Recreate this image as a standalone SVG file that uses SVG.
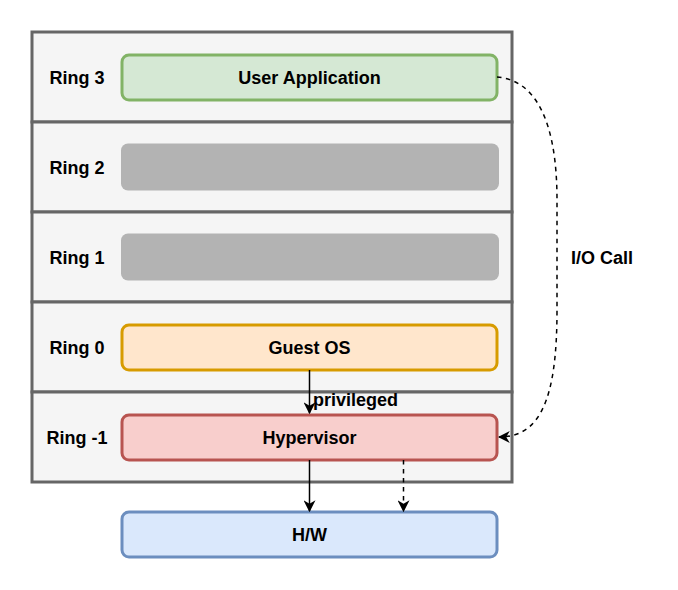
<svg xmlns="http://www.w3.org/2000/svg" width="678" height="590" viewBox="0 0 678 590">
<style>
text{font-family:"Liberation Sans",Arial,sans-serif;font-weight:bold;font-size:18px;fill:#000}
.c{text-anchor:middle}
.row{fill:#f5f5f5;stroke:#666666;stroke-width:3}
.box{stroke-width:3}
.ln{fill:none;stroke:#000;stroke-width:1.5}
.d{stroke-dasharray:4.5 4.5}
</style>
<defs>
<marker id="ah" viewBox="0 0 10 10" refX="9" refY="5" markerWidth="12" markerHeight="12" markerUnits="userSpaceOnUse" orient="auto">
<path d="M0,0 L10,5 L0,10 L3,5 Z" fill="#000"/>
</marker>
</defs>
<g id="ring3"><rect class="row" x="32" y="32" width="480" height="90"/><text class="c" x="77" y="83.5">Ring 3</text></g>
<g id="ring2"><rect class="row" x="32" y="122" width="480" height="90"/><text class="c" x="77" y="173.5">Ring 2</text></g>
<g id="ring1"><rect class="row" x="32" y="212" width="480" height="90"/><text class="c" x="77" y="263.5">Ring 1</text></g>
<g id="ring0"><rect class="row" x="32" y="302" width="480" height="90"/><text class="c" x="77" y="353.5">Ring 0</text></g>
<g id="ringm1"><rect class="row" x="32" y="392" width="480" height="90"/><text class="c" x="77" y="443.5">Ring -1</text></g>
<g id="userapp"><rect class="box" x="122" y="55" width="375" height="45" rx="7" fill="#d5e8d4" stroke="#82b366"/><text class="c" x="309.5" y="83.5">User Application</text></g>
<g id="gray2"><rect x="121" y="143.5" width="378" height="47" rx="7" fill="#b3b3b3"/></g>
<g id="gray1"><rect x="121" y="233.5" width="378" height="47" rx="7" fill="#b3b3b3"/></g>
<g id="guestos"><rect class="box" x="122" y="325" width="375" height="45" rx="7" fill="#ffe6cc" stroke="#d79b00"/><text class="c" x="309.5" y="353.5">Guest OS</text></g>
<g id="hypervisor"><rect class="box" x="122" y="415" width="375" height="45" rx="7" fill="#f8cecc" stroke="#b85450"/><text class="c" x="309.5" y="443.5">Hypervisor</text></g>
<g id="hw"><rect class="box" x="122" y="512" width="375" height="45" rx="7" fill="#dae8fc" stroke="#6c8ebf"/><text class="c" x="309.5" y="540.5">H/W</text></g>
<g id="connectors">
<path class="ln" d="M309.5,370 L309.5,413" marker-end="url(#ah)"/>
<text x="313" y="405.5">privileged</text>
<path class="ln" d="M309.5,460 L309.5,511" marker-end="url(#ah)"/>
<path class="ln d" d="M403.5,460 L403.5,511" marker-end="url(#ah)"/>
<path class="ln d" d="M497,77 C535,80 557,120 557,200 L557,310 C557,400 540,437 499,437" marker-end="url(#ah)"/>
<text class="c" x="602" y="263.5">I/O Call</text>
</g>
</svg>
